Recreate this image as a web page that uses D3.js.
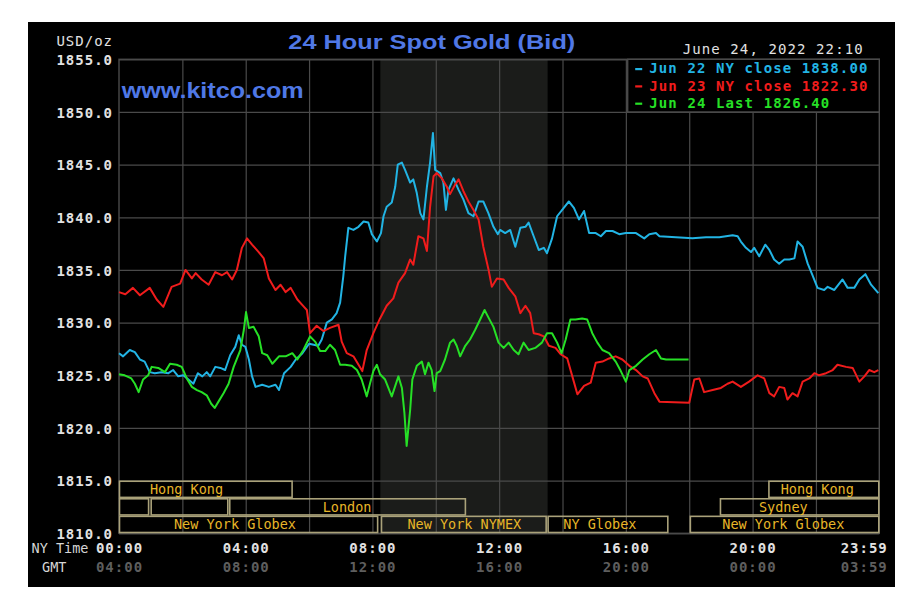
<!DOCTYPE html>
<html>
<head>
<meta charset="utf-8">
<script src="https://cdn.jsdelivr.net/npm/d3@7"></script>
<style>
	body { margin: 0; background: #ffffff; }
</style>
</head>
<body>
<div id="chartContainer"></div>
<script>
// Price axis ticks and time labels
var yTicks = [1810, 1815, 1820, 1825, 1830, 1835, 1840, 1845, 1850, 1855];
var tickHours = [0, 4, 8, 12, 16, 20, 24];
var gridHours = [2, 4, 6, 8, 10, 12, 14, 16, 18, 20, 22];
var nyTimeLabels = ['00:00', '04:00', '08:00', '12:00', '16:00', '20:00', '23:59'];
var gmtLabels = ['04:00', '08:00', '12:00', '16:00', '20:00', '00:00', '03:59'];
var legendLabels = ['Jun 22 NY close 1838.00', 'Jun 23 NY close 1822.30', 'Jun 24 Last 1826.40'];
var seriesColors = ['#22b4e4', '#f01c1c', '#26e026'];

// NYMEX open shading (hours)
var nymexHours = [8.25, 13.53];

// Market sessions: [row, start hour, end hour, label, label centre hour]
var sessions = [
	[0, 0, 5.48, 'Hong Kong', 2.13],
	[0, 20.5, 24, 'Hong Kong', 22.04],
	[1, 0, 0.95, '', 0],
	[1, 1.0, 3.45, '', 0],
	[1, 3.48, 10.95, 'London', 7.2],
	[1, 18.97, 24, 'Sydney', 20.97],
	[2, 0, 8.18, 'New York Globex', 3.66],
	[2, 8.27, 13.5, 'New York NYMEX', 10.9],
	[2, 13.53, 17.34, 'NY Globex', 15.18],
	[2, 18.02, 24, 'New York Globex', 20.97]
];

// Jun 22 (cyan) [hour, price]
var jun22 = [[0,1827.1],[0.13,1826.8],[0.34,1827.4],[0.5,1827.2],[0.66,1826.5],[0.81,1826.3],[0.97,1825.3],[1.13,1825.2],[1.34,1825.3],[1.56,1825.2],[1.71,1825.5],[1.87,1824.9],[2.03,1825.0],[2.19,1824.6],[2.35,1824.2],[2.49,1825.2],[2.63,1824.9],[2.77,1825.3],[2.88,1824.9],[3.04,1825.8],[3.2,1825.7],[3.35,1825.5],[3.51,1826.9],[3.67,1827.7],[3.78,1828.8],[3.88,1827.9],[3.99,1827.7],[4.1,1826.5],[4.2,1824.9],[4.31,1823.9],[4.52,1824.1],[4.73,1823.9],[4.94,1824.1],[5.05,1823.6],[5.21,1825.2],[5.42,1825.8],[5.58,1826.5],[5.79,1827.1],[6.0,1828.0],[6.29,1827.8],[6.4,1828.4],[6.56,1830.0],[6.72,1830.3],[6.87,1830.9],[6.98,1831.9],[7.08,1834.4],[7.14,1836.3],[7.24,1839.0],[7.4,1838.8],[7.56,1839.1],[7.72,1839.6],[7.87,1839.5],[7.98,1838.4],[8.14,1837.7],[8.27,1838.5],[8.35,1840.1],[8.45,1841.0],[8.61,1841.4],[8.72,1842.9],[8.8,1845.0],[8.93,1845.2],[9.03,1844.5],[9.19,1843.3],[9.29,1843.6],[9.4,1842.3],[9.51,1840.4],[9.61,1839.8],[9.72,1842.9],[9.82,1845.2],[9.91,1848.0],[9.98,1844.5],[10.14,1844.2],[10.24,1843.3],[10.32,1840.7],[10.4,1842.6],[10.56,1843.7],[10.72,1842.6],[10.87,1841.7],[11.03,1840.4],[11.19,1840.1],[11.35,1841.5],[11.5,1841.5],[11.66,1840.4],[11.82,1839.1],[11.96,1838.4],[12.03,1838.8],[12.19,1838.5],[12.35,1838.8],[12.51,1837.2],[12.67,1839.0],[12.83,1839.1],[12.93,1839.5],[13.09,1838.2],[13.25,1836.9],[13.41,1837.1],[13.51,1836.6],[13.67,1838.0],[13.83,1840.1],[14.04,1840.9],[14.2,1841.5],[14.36,1840.9],[14.52,1839.8],[14.68,1840.6],[14.84,1838.5],[15.05,1838.5],[15.21,1838.2],[15.37,1838.7],[15.58,1838.7],[15.79,1838.4],[16.0,1838.5],[16.32,1838.5],[16.58,1838.0],[16.74,1838.4],[16.95,1838.5],[17.06,1838.2],[18.1,1838.0],[18.53,1838.1],[18.95,1838.1],[19.37,1838.3],[19.53,1838.2],[19.63,1837.7],[19.79,1837.1],[19.95,1836.7],[20.05,1837.1],[20.21,1836.3],[20.4,1837.4],[20.53,1836.9],[20.68,1836.0],[20.84,1835.6],[21.0,1836.0],[21.16,1836.0],[21.32,1836.1],[21.42,1837.7],[21.58,1837.2],[21.74,1835.6],[21.89,1834.5],[22.05,1833.3],[22.26,1833.1],[22.37,1833.4],[22.58,1833.1],[22.84,1834.1],[23.0,1833.3],[23.21,1833.3],[23.37,1834.1],[23.56,1834.6],[23.74,1833.6],[23.97,1832.8]];

// Jun 23 (red)
var jun23 = [[0,1832.9],[0.2,1832.7],[0.44,1833.3],[0.66,1832.6],[0.97,1833.3],[1.19,1832.2],[1.4,1831.5],[1.66,1833.4],[1.93,1833.7],[2.1,1835.0],[2.3,1834.2],[2.42,1834.7],[2.61,1834.1],[2.83,1833.6],[3.04,1834.8],[3.25,1834.5],[3.41,1834.8],[3.57,1834.1],[3.72,1835.0],[3.88,1837.1],[4.04,1838.0],[4.2,1837.4],[4.41,1836.7],[4.57,1836.1],[4.73,1834.2],[4.94,1833.1],[5.1,1833.6],[5.26,1832.9],[5.42,1833.3],[5.63,1832.2],[5.84,1831.5],[5.93,1831.2],[6.03,1829.0],[6.24,1829.7],[6.45,1829.2],[6.66,1829.5],[6.93,1829.8],[7.03,1828.2],[7.19,1827.1],[7.4,1826.8],[7.68,1825.4],[7.82,1827.4],[8.03,1829.0],[8.24,1830.4],[8.45,1831.6],[8.66,1832.3],[8.82,1833.8],[9.03,1834.7],[9.19,1836.0],[9.29,1835.5],[9.45,1838.2],[9.61,1838.0],[9.72,1836.8],[9.82,1841.0],[9.93,1843.9],[10.03,1844.2],[10.19,1843.7],[10.35,1842.9],[10.45,1842.2],[10.61,1843.1],[10.72,1843.6],[10.87,1842.5],[11.03,1841.5],[11.19,1840.7],[11.35,1839.8],[11.5,1837.2],[11.66,1835.1],[11.77,1833.4],[11.93,1834.2],[12.14,1834.1],[12.3,1833.3],[12.51,1832.5],[12.67,1830.9],[12.83,1831.6],[12.98,1830.9],[13.09,1829.0],[13.25,1828.9],[13.41,1828.7],[13.57,1827.8],[13.78,1827.6],[13.94,1827.0],[14.15,1826.6],[14.31,1824.9],[14.47,1823.2],[14.68,1824.0],[14.89,1824.3],[15.05,1826.2],[15.26,1826.3],[15.47,1826.6],[15.68,1826.8],[15.89,1826.5],[16.11,1825.9],[16.32,1825.5],[16.53,1824.9],[16.69,1824.7],[16.9,1823.3],[17.06,1822.5],[18.0,1822.4],[18.16,1824.6],[18.32,1824.7],[18.47,1823.4],[18.74,1823.6],[19.0,1823.8],[19.21,1824.2],[19.37,1824.4],[19.63,1823.9],[19.89,1824.4],[20.16,1825.0],[20.37,1824.7],[20.53,1823.3],[20.68,1823.0],[20.84,1823.9],[21.0,1823.8],[21.1,1822.7],[21.26,1823.3],[21.42,1823.0],[21.58,1824.4],[21.79,1824.7],[21.95,1825.2],[22.1,1825.0],[22.32,1825.2],[22.53,1825.5],[22.68,1826.0],[22.95,1825.8],[23.16,1825.7],[23.37,1824.4],[23.53,1824.9],[23.68,1825.5],[23.84,1825.3],[23.97,1825.5]];

// Jun 24 (green)
var jun24 = [[0,1825.1],[0.18,1825.0],[0.39,1824.7],[0.5,1824.2],[0.62,1823.4],[0.76,1824.6],[0.92,1825.0],[1.03,1825.8],[1.24,1825.7],[1.45,1825.3],[1.61,1826.1],[1.82,1826.0],[1.98,1825.8],[2.14,1824.7],[2.3,1823.9],[2.46,1823.6],[2.61,1823.4],[2.77,1823.1],[2.91,1822.3],[3.02,1821.9],[3.14,1822.5],[3.3,1823.3],[3.46,1824.2],[3.62,1825.8],[3.83,1827.4],[3.94,1829.3],[4.01,1831.0],[4.1,1829.5],[4.25,1829.6],[4.41,1828.7],[4.52,1827.1],[4.68,1826.9],[4.84,1826.1],[5.05,1826.8],[5.26,1826.8],[5.47,1827.1],[5.63,1826.5],[5.82,1827.4],[6.03,1828.7],[6.19,1828.2],[6.35,1827.3],[6.51,1827.3],[6.66,1827.9],[6.82,1827.4],[6.98,1826.0],[7.14,1826.0],[7.35,1825.9],[7.51,1825.5],[7.66,1824.6],[7.82,1823.0],[7.93,1824.3],[8.03,1825.4],[8.14,1826.0],[8.24,1825.1],[8.4,1824.6],[8.61,1823.0],[8.82,1824.9],[8.93,1823.8],[9.01,1821.4],[9.08,1818.3],[9.19,1821.7],[9.26,1824.6],[9.4,1825.9],[9.56,1826.3],[9.66,1825.1],[9.77,1826.2],[9.87,1825.5],[9.96,1823.5],[10.03,1825.2],[10.14,1825.4],[10.29,1826.5],[10.45,1828.1],[10.56,1828.4],[10.66,1827.8],[10.77,1826.8],[10.93,1827.8],[11.08,1828.4],[11.24,1829.3],[11.4,1830.3],[11.54,1831.2],[11.66,1830.5],[11.82,1829.6],[11.98,1828.1],[12.14,1827.6],[12.3,1828.1],[12.46,1827.4],[12.61,1827.0],[12.77,1828.1],[12.93,1827.4],[13.14,1827.6],[13.35,1828.1],[13.51,1829.0],[13.67,1829.0],[13.83,1828.1],[13.97,1827.1],[14.1,1828.4],[14.25,1830.3],[14.41,1830.3],[14.62,1830.4],[14.78,1830.3],[14.94,1829.0],[15.1,1828.1],[15.26,1827.4],[15.47,1827.1],[15.68,1826.3],[15.84,1825.4],[16.0,1824.4],[16.11,1825.5],[16.32,1825.9],[16.53,1826.5],[16.74,1827.0],[16.95,1827.4],[17.11,1826.6],[17.27,1826.5],[17.98,1826.5]];

var margin = { top: 59.3, left: 119 };
var width = 760.3;
var height = 474;
var monoFont = 'DejaVu Sans Mono, Liberation Mono, monospace';
var sansFont = 'Liberation Sans, Arial, sans-serif';

var svg = d3.select('#chartContainer')
	.append('svg')
	.attr('width', 922)
	.attr('height', 612)
	.attr('font-family', monoFont);

// Black panel
svg.append('rect')
	.attr('x', 28)
	.attr('y', 22)
	.attr('width', 867)
	.attr('height', 565)
	.attr('fill', '#000000');

var main = svg.append('g')
	.attr('transform', 'translate(' + margin.left + ',' + margin.top + ')');

var x = d3.scaleLinear().domain([0, 24]).range([0, width]);
var y = d3.scaleLinear().domain([1810, 1855]).range([height, 0]);

// NYMEX shading
main.append('rect')
	.attr('x', x(nymexHours[0]))
	.attr('y', 0)
	.attr('width', x(nymexHours[1]) - x(nymexHours[0]))
	.attr('height', height)
	.attr('fill', '#1b1c1a');

// Grid lines
main.append('g')
	.attr('class', 'grid')
	.call(d3.axisLeft(y).tickValues(yTicks).tickSize(-width).tickFormat(''));
main.append('g')
	.attr('class', 'grid')
	.call(d3.axisBottom(x).tickValues(gridHours).tickSize(height).tickFormat(''));
main.selectAll('.grid .domain').remove();
main.selectAll('.grid line')
	.attr('stroke', '#4a4a4a')
	.attr('stroke-width', 1.2);

// Plot border
main.append('rect')
	.attr('width', width)
	.attr('height', height)
	.attr('fill', 'none')
	.attr('stroke', '#4a4a4a')
	.attr('stroke-width', 1.4);

// Session boxes
var rowH = (y(1810) - y(1815)) / 3;
var sess = main.selectAll('.session')
	.data(sessions)
	.enter()
	.append('g')
	.attr('class', 'session');
sess.append('rect')
	.attr('x', function(d) { return x(d[1]) + 0.5; })
	.attr('y', function(d) { return y(1815) + d[0] * rowH + 0.6; })
	.attr('width', function(d) { return x(d[2]) - x(d[1]) - 1; })
	.attr('height', rowH - 1.4)
	.attr('fill', 'none')
	.attr('stroke', '#aaa27a')
	.attr('stroke-width', 1.6);
sess.append('text')
	.text(function(d) { return d[3]; })
	.attr('x', function(d) { return x(d[4]); })
	.attr('y', function(d) { return y(1815) + d[0] * rowH + 13.4; })
	.attr('text-anchor', 'middle')
	.attr('font-size', '13.5px')
	.attr('fill', '#e8b628');

// Watermark
main.append('text')
	.text('www.kitco.com')
	.attr('x', 121.7 - margin.left)
	.attr('y', 97.7 - margin.top)
	.attr('font-family', sansFont)
	.attr('font-weight', 'bold')
	.attr('font-size', '22px')
	.attr('textLength', 182)
	.attr('lengthAdjust', 'spacingAndGlyphs')
	.attr('fill', '#4f78e6');

// Price lines
var line = d3.line()
	.x(function(d) { return x(d[0]); })
	.y(function(d) { return y(d[1]); });

[jun22, jun23, jun24].forEach(function(series, i) {
	main.append('path')
		.datum(series)
		.attr('d', line)
		.attr('fill', 'none')
		.attr('stroke', seriesColors[i])
		.attr('stroke-width', 2)
		.attr('stroke-linejoin', 'round');
});

// Legend box
var legend = main.append('g')
	.attr('transform', 'translate(' + (627.7 - margin.left) + ',' + y(1855) + ')');
legend.append('rect')
	.attr('width', width - (627.7 - margin.left))
	.attr('height', y(1850) - y(1855))
	.attr('fill', '#000000')
	.attr('stroke', '#4a4a4a')
	.attr('stroke-width', 1.4);
legend.selectAll('.legendmark')
	.data(legendLabels)
	.enter()
	.append('rect')
	.attr('x', 7.5)
	.attr('y', function(d, i) { return 14.2 + i * 17.3 - 5.5; })
	.attr('width', 7)
	.attr('height', 2.2)
	.attr('fill', function(d, i) { return seriesColors[i]; });
legend.selectAll('.legendtext')
	.data(legendLabels)
	.enter()
	.append('text')
	.text(function(d) { return d; })
	.attr('x', 21.6)
	.attr('y', function(d, i) { return 14.2 + i * 17.3; })
	.attr('font-size', '14px')
	.attr('font-weight', 'bold')
	.attr('letter-spacing', '1.1px')
	.attr('fill', function(d, i) { return seriesColors[i]; });

// Y axis labels
var yAxis = main.append('g')
	.call(d3.axisLeft(y).tickValues(yTicks).tickSize(0).tickPadding(6).tickFormat(d3.format('.1f')));
yAxis.select('.domain').remove();
yAxis.selectAll('text')
	.attr('dy', '0.36em')
	.attr('font-family', monoFont)
	.attr('font-size', '14px')
	.attr('font-weight', 'bold')
	.attr('letter-spacing', '1px')
	.attr('fill', '#e2e2e2');

// X axis labels, NY time and GMT
var xAxis = main.append('g')
	.attr('transform', 'translate(0,' + height + ')')
	.call(d3.axisBottom(x).tickValues(tickHours).tickSize(0).tickFormat(function(d, i) { return nyTimeLabels[i]; }));
xAxis.select('.domain').remove();
var gmtAxis = main.append('g')
	.attr('transform', 'translate(0,' + height + ')')
	.call(d3.axisBottom(x).tickValues(tickHours).tickSize(0).tickFormat(function(d, i) { return gmtLabels[i]; }));
gmtAxis.select('.domain').remove();

[[xAxis, 20, '#e2e2e2'], [gmtAxis, 39, '#5e5e5e']].forEach(function(a) {
	a[0].selectAll('text')
		.attr('y', a[1])
		.attr('dy', null)
		.attr('font-family', monoFont)
		.attr('font-size', '14px')
		.attr('font-weight', 'bold')
		.attr('letter-spacing', '1px')
		.attr('fill', a[2])
		.attr('text-anchor', function(d, i) { return i == tickHours.length - 1 ? 'end' : 'middle'; })
		.attr('x', function(d, i) { return i == tickHours.length - 1 ? 8 : 0; });
});

// Side captions
svg.append('text')
	.text('NY Time')
	.attr('x', 31.5)
	.attr('y', 553.3)
	.attr('font-size', '13.5px')
	.attr('fill', '#d6d6d6');
svg.append('text')
	.text('GMT')
	.attr('x', 54.2)
	.attr('y', 572.3)
	.attr('text-anchor', 'middle')
	.attr('font-size', '13.5px')
	.attr('fill', '#d6d6d6');
svg.append('text')
	.text('USD/oz')
	.attr('x', 113)
	.attr('y', 45.7)
	.attr('text-anchor', 'end')
	.attr('font-size', '14px')
	.attr('letter-spacing', '1px')
	.attr('fill', '#e2e2e2');

// Title and timestamp
svg.append('text')
	.text('24 Hour Spot Gold (Bid)')
	.attr('x', 288.3)
	.attr('y', 49)
	.attr('font-family', sansFont)
	.attr('font-weight', 'bold')
	.attr('font-size', '20.5px')
	.attr('textLength', 287)
	.attr('lengthAdjust', 'spacingAndGlyphs')
	.attr('fill', '#5078e6');
svg.append('text')
	.text('June 24, 2022 22:10')
	.attr('x', 682.7)
	.attr('y', 54.3)
	.attr('font-size', '14px')
	.attr('letter-spacing', '1.1px')
	.attr('fill', '#e2e2e2');
</script>
</body>
</html>
